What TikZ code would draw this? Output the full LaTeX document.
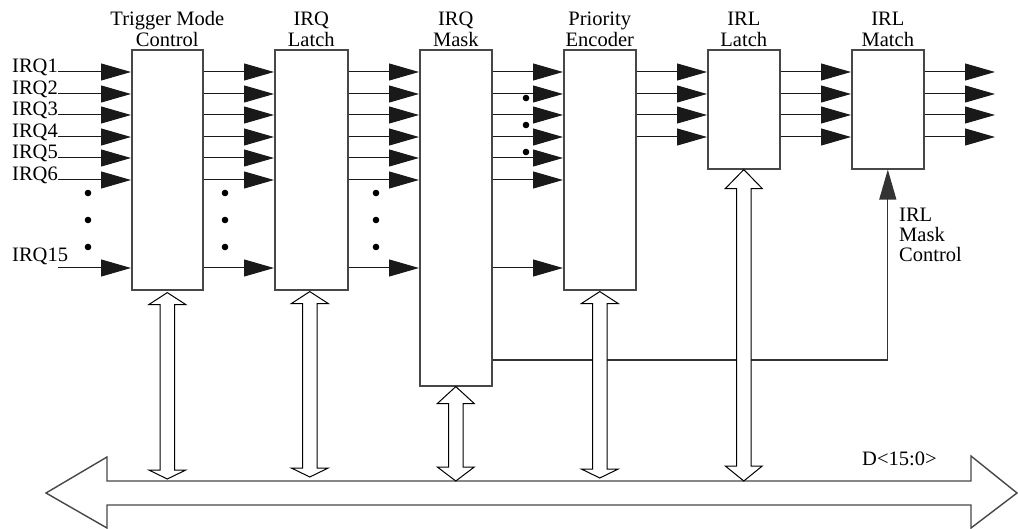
\documentclass[tikz,border=0pt]{standalone}
\usepackage{fontspec}
\setmainfont{Liberation Serif}
\usetikzlibrary{arrows.meta,calc}

% hollow double-headed bus connector: #1 upper tip, #2 lower tip,
% #3 upper head length, #4 lower head length
\newcommand\dblarrow[4]{%
  \draw[busarrow] let \p1=#1, \p2=#2 in
    (\x1,\y1) -- (\x1+18.5pt,\y1-#3) -- (\x1+7.3pt,\y1-#3)
    -- (\x1+7.3pt,\y2+#4) -- (\x1+18.5pt,\y2+#4) -- (\x2,\y2)
    -- (\x1-18.5pt,\y2+#4) -- (\x1-7.3pt,\y2+#4)
    -- (\x1-7.3pt,\y1-#3) -- (\x1-18.5pt,\y1-#3) -- cycle;}

\begin{document}
\begin{tikzpicture}[x=1pt,y=-1pt,
  blk/.style={draw=black!72, line width=1.6pt, fill=white, inner sep=0pt, anchor=north west},
  ttl/.style={font=\fontsize{20.5}{20.7}\selectfont, align=center, anchor=south, inner sep=0pt},
  lbl/.style={font=\fontsize{20.5}{20}\selectfont, inner sep=0pt},
  sig/.style={draw=black!90, line width=1pt, -{Triangle[length=30pt,width=17pt]}},
  wire/.style={draw=black!72, line width=1.4pt},
  busarrow/.style={draw=black, line width=1pt, fill=white, line join=miter},
  dotmark/.style={fill=black}]
\useasboundingbox (0,0) rectangle (1018,529);

% function blocks
\node[blk, minimum width=71pt, minimum height=240pt] (tmc)  at (131,49) {};
\node[blk, minimum width=73pt, minimum height=240pt] (irql) at (274,49) {};
\node[blk, minimum width=72pt, minimum height=336pt] (irqm) at (419,49) {};
\node[blk, minimum width=72pt, minimum height=240pt] (prio) at (563,49) {};
\node[blk, minimum width=72pt, minimum height=119pt] (irll) at (707,49) {};
\node[blk, minimum width=72pt, minimum height=119pt] (irlm) at (851,49) {};

% block titles
\node[ttl] (ttmc)  at ($(tmc.north)+(0,-2)$)  {Trigger Mode\\Control};
\node[ttl] (tirql) at ($(irql.north)+(0,-2)$) {IRQ\\Latch};
\node[ttl] (tirqm) at ($(irqm.north)+(0,-2)$) {IRQ\\Mask};
\node[ttl] (tprio) at ($(prio.north)+(0,-2)$) {Priority\\Encoder};
\node[ttl] (tirll) at ($(irll.north)+(0,-2)$) {IRL\\Latch};
\node[ttl] (tirlm) at ($(irlm.north)+(0,-2)$) {IRL\\Match};

% signal rows
\foreach \n/\y in {1/72,2/94,3/115,4/137,5/158,6/180,15/268}
  \coordinate (r\n) at (0,\y);
\coordinate (ins) at (58,0);
\coordinate (outs) at (995,0);

% interrupt request inputs
\foreach \n/\y in {1/73,2/95,3/116,4/138,5/159,6/181}
  \node[lbl, anchor=base west] (l\n) at (12,\y) {IRQ\n};
\node[lbl, anchor=base west] (l15) at (12,262) {IRQ15};

\foreach \n in {1,2,3,4,5,6,15} {
  \draw[sig] (ins |- r\n) -- (tmc.west |- r\n);
  \draw[sig] (tmc.east |- r\n) -- (irql.west |- r\n);
  \draw[sig] (irql.east |- r\n) -- (irqm.west |- r\n);
  \draw[sig] (irqm.east |- r\n) -- (prio.west |- r\n);
}
\foreach \n in {1,2,3,4} {
  \draw[sig] (prio.east |- r\n) -- (irll.west |- r\n);
  \draw[sig] (irll.east |- r\n) -- (irlm.west |- r\n);
  \draw[sig] (irlm.east |- r\n) -- (outs |- r\n);
}

% ellipsis dots
\foreach \x in {88,225,376}
  \foreach \y in {193,220,247}
    \fill[dotmark] (\x,\y) circle (3.3pt);
\foreach \y in {98,125,152}
  \fill[dotmark] (526,\y) circle (3.3pt);

% IRL mask control path
\coordinate (mc) at (0,360);
\draw[sig, line width=1.3pt, draw=black!80] (irqm.east |- mc) -| (irlm.south);
\node[lbl, align=left, anchor=north west] (mcl) at (899,208) {IRL\\Mask\\Control};

% data bus
\coordinate (bt) at (0,481);
\draw[wire, fill=white] (46,493) -- (107,457) -- (107,481) -- (971,481)
  -- (971,456) -- (1017,493) -- (971,528) -- (971,505) -- (107,505)
  -- (107,528) -- cycle;
\node[lbl, anchor=base west] (dl) at (862,465) {D<15:0>};

% block to bus connections
\dblarrow{($(tmc.south)+(0,2)$)}{($(tmc.south |- bt)+(0,-2)$)}{12pt}{9pt}
\dblarrow{($(irql.south)+(-1.5,1)$)}{($(irql.south |- bt)+(-1.5,-4)$)}{12pt}{9pt}
\dblarrow{(irqm.south)}{(irqm.south |- bt)}{17pt}{14pt}
\dblarrow{($(prio.south)+(0,1)$)}{($(prio.south |- bt)+(0,-3)$)}{12pt}{9pt}
\dblarrow{(irll.south)}{(irll.south |- bt)}{19pt}{15pt}
\end{tikzpicture}
\end{document}
